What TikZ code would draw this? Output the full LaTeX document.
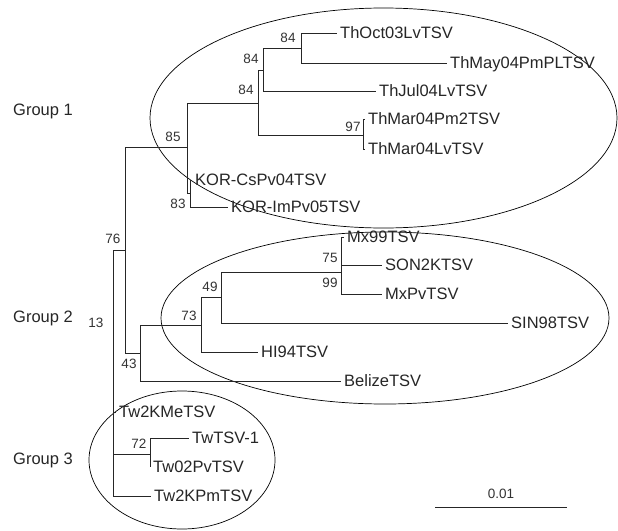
\documentclass[tikz,border=0pt]{standalone}
\usepackage{fontspec}
\setmainfont{Liberation Sans}
\usetikzlibrary{calc}
\newcommand*{\lfsize}{\fontsize{16.5}{18}\selectfont}
\newcommand*{\bsize }{\fontsize{13.5}{15}\selectfont}
\tikzset{
    branch/.style = {line width=0.8pt, draw=black!85},
    leaf/.style   = {anchor=west, inner xsep=3pt, inner ysep=0pt, text height=11.8pt, text depth=0pt, font=\lfsize, text=black!85},
    boot/.style   = {inner sep=0pt, text height=9.7pt, text depth=0pt, font=\bsize, text=black!80},
    grp/.style    = {line width=0.7pt, draw=black},
    grplabel/.style = {inner sep=0pt, text height=11.8pt, text depth=0pt, font=\lfsize, text=black!85},
}

\begin{document}
\begin{tikzpicture}[x=1pt, y=-1pt]
    \useasboundingbox (0,0) rectangle (618,530);

    % groups
    \draw [grp] (383.5,118) ellipse [x radius=233.5, y radius=110];
    \draw [grp] (385,318) ellipse [x radius=224, y radius=86];
    \draw [grp] (182,460) ellipse [x radius=93, y radius=69];
    \node [grplabel] (g1) at (43,110) {Group 1};
    \node [grplabel] (g2) at (43,317) {Group 2};
    \node [grplabel] (g3) at (43,459) {Group 3};

    % internal nodes
    \coordinate (n13)  at (113,250);
    \coordinate (n76)  at (125,250);
    \coordinate (n85)  at (187,147);
    \coordinate (n83)  at (190,193);
    \coordinate (n84c) at (258,103);
    \coordinate (n84b) at (263,70);
    \coordinate (n84a) at (301,48);
    \coordinate (n97)  at (363,135);
    \coordinate (n43)  at (140,353);
    \coordinate (n73)  at (201,325);
    \coordinate (n49)  at (221,297);
    \coordinate (n75)  at (341,272);
    \coordinate (n72)  at (150,454);

    % leaves
    \node [leaf] (oct)    at (337,33)  {ThOct03LvTSV};
    \node [leaf] (may)    at (447,63)  {ThMay04PmPLTSV};
    \node [leaf] (jul)    at (376,91)  {ThJul04LvTSV};
    \node [leaf] (marpm)  at (365,119) {ThMar04Pm2TSV};
    \node [leaf] (marlv)  at (365,149) {ThMar04LvTSV};
    \node [leaf] (korcs)  at (192,180) {KOR-CsPv04TSV};
    \node [leaf] (korim)  at (228,207) {KOR-ImPv05TSV};
    \node [leaf] (mx99)   at (344,237) {Mx99TSV};
    \node [leaf] (son)    at (382,265) {SON2KTSV};
    \node [leaf] (mxpv)   at (382,294) {MxPvTSV};
    \node [leaf] (sin)    at (508,323) {SIN98TSV};
    \node [leaf] (hi94)   at (258,352) {HI94TSV};
    \node [leaf] (belize) at (341,381) {BelizeTSV};
    \node [leaf] (tw2kme) at (116,412) {Tw2KMeTSV};
    \node [leaf] (twtsv)  at (189,438) {TwTSV-1};
    \node [leaf] (tw02)   at (150,467) {Tw02PvTSV};
    \node [leaf] (tw2kpm) at (151,496) {Tw2KPmTSV};

    % branches
    \draw [branch] (n13) |- (n76);
    \draw [branch] (n13) |- (tw2kme.west);
    \draw [branch] (n13) |- (n72);
    \draw [branch] (n13) |- (tw2kpm.west);
    \draw [branch] (n76) |- (n85);
    \draw [branch] (n76) |- (n43);
    \draw [branch] (n85) |- (n84c);
    \draw [branch] (n85) |- (n83);
    \draw [branch] (n83) |- (korcs.west);
    \draw [branch] (n83) |- (korim.west);
    \draw [branch] (n84c) |- (n84b);
    \draw [branch] (n84c) |- (n97);
    \draw [branch] (n84b) |- (n84a);
    \draw [branch] (n84b) |- (jul.west);
    \draw [branch] (n84a) |- (oct.west);
    \draw [branch] (n84a) |- (may.west);
    \draw [branch] (n97) |- (marpm.west);
    \draw [branch] (n97) |- (marlv.west);
    \draw [branch] (n43) |- (n73);
    \draw [branch] (n43) |- (belize.west);
    \draw [branch] (n73) |- (n49);
    \draw [branch] (n73) |- (hi94.west);
    \draw [branch] (n49) |- (n75);
    \draw [branch] (n49) |- (sin.west);
    \draw [branch] (n75) |- (mx99.west);
    \draw [branch] (n75) |- (son.west);
    \draw [branch] (n75) |- (mxpv.west);
    \draw [branch] (n72) |- (twtsv.west);
    \draw [branch] (n72) |- (tw02.west);

    % bootstrap values
    \node [boot] (b84a) at (288,38)  {84};
    \node [boot] (b84b) at (251,59)  {84};
    \node [boot] (b84c) at (246,90)  {84};
    \node [boot] (b85)  at (173,137) {85};
    \node [boot] (b83)  at (178,204) {83};
    \node [boot] (b97)  at (353,127) {97};
    \node [boot] (b76)  at (113,239) {76};
    \node [boot] (b13)  at (96,323)  {13};
    \node [boot] (b43)  at (129,364) {43};
    \node [boot] (b73)  at (189,316) {73};
    \node [boot] (b49)  at (210,287) {49};
    \node [boot] (b75)  at (330,258) {75};
    \node [boot] (b99)  at (330,283) {99};
    \node [boot] (b72)  at (139,444) {72};

    % scale bar
    \coordinate (sbl) at (435,507);
    \coordinate (sbr) at (567,507);
    \draw [branch] (sbl) -- (sbr);
    \node [boot] (sblabel) at (501,494) {0.01};
\end{tikzpicture}
\end{document}
